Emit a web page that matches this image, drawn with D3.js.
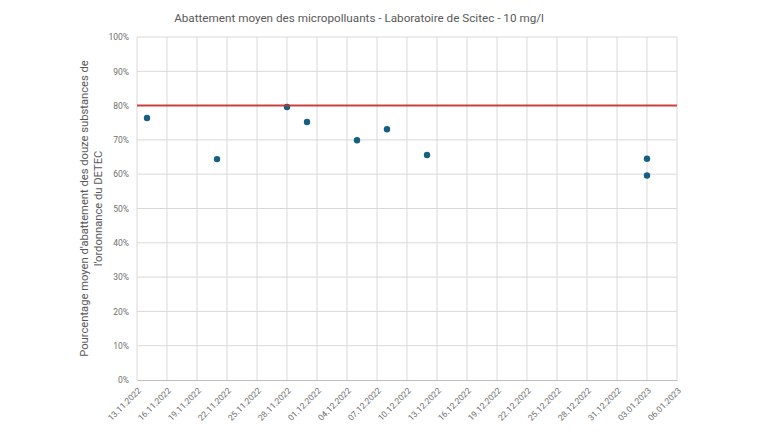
<!DOCTYPE html>
<html lang="fr">
<head>
<meta charset="UTF-8">
<title>Abattement moyen</title>
<script src="https://d3js.org/d3.v7.min.js"></script>
<style>
  body { margin: 0; background: #fff; }
  svg text { font-family: Roboto, "Liberation Sans", Arial, sans-serif; }
</style>
</head>
<body>
<script>
// Data
const dates = ["14.11.2022", "21.11.2022", "28.11.2022", "30.11.2022", "05.12.2022",
               "08.12.2022", "12.12.2022", "03.01.2023", "03.01.2023"];
const values = [76.4, 64.4, 79.6, 75.2, 69.9, 73.1, 65.6, 64.5, 59.6];
const target = 80;
const xTickLabels = ["13.11.2022", "16.11.2022", "19.11.2022", "22.11.2022", "25.11.2022",
  "28.11.2022", "01.12.2022", "04.12.2022", "07.12.2022", "10.12.2022", "13.12.2022",
  "16.12.2022", "19.12.2022", "22.12.2022", "25.12.2022", "28.12.2022", "31.12.2022",
  "03.01.2023", "06.01.2023"];
const yTicks = [0, 10, 20, 30, 40, 50, 60, 70, 80, 90, 100];

const w = 760, h = 440;
const margin = {left: 137, right: 83, top: 37, bottom: 60};

const parse = d3.timeParse("%d.%m.%Y");
const fmt = d3.timeFormat("%d.%m.%Y");

const svg = d3.select("body").append("svg")
  .attr("width", w).attr("height", h);

const x = d3.scaleTime()
  .domain([parse(xTickLabels[0]), parse(xTickLabels[xTickLabels.length - 1])])
  .range([margin.left, w - margin.right]);

const y = d3.scaleLinear()
  .domain([0, 100])
  .range([h - margin.bottom, margin.top]);

const xTickDates = xTickLabels.map(parse);

// grid
svg.append("g")
  .selectAll("line.h")
  .data(yTicks.slice(1))
  .join("line")
  .attr("x1", margin.left).attr("x2", w - margin.right)
  .attr("y1", d => y(d)).attr("y2", d => y(d))
  .attr("stroke", "#d9d9d9").attr("stroke-width", 1);

svg.append("g")
  .selectAll("line.v")
  .data(xTickDates)
  .join("line")
  .attr("x1", d => x(d)).attr("x2", d => x(d))
  .attr("y1", y(0)).attr("y2", y(100))
  .attr("stroke", "#d9d9d9").attr("stroke-width", 1);

// y axis
const yAxis = svg.append("g")
  .attr("transform", `translate(${margin.left},0)`)
  .call(d3.axisLeft(y).tickValues(yTicks).tickSize(0).tickPadding(8).tickFormat(d => d + "%"));
yAxis.select(".domain").remove();
yAxis.selectAll("text").attr("fill", "#6f6f6f").style("font-size", "8.5px");

// x axis
const xAxis = svg.append("g")
  .attr("transform", `translate(0,${y(0)})`)
  .call(d3.axisBottom(x).tickValues(xTickDates).tickSize(0).tickFormat(fmt));
xAxis.select(".domain").attr("stroke", "#bfbfbf");
xAxis.selectAll("text")
  .attr("fill", "#6f6f6f")
  .style("font-size", "8.5px")
  .attr("text-anchor", "end")
  .attr("dx", 0).attr("dy", 0)
  .attr("transform", "translate(2,9) rotate(-45)");

// points
svg.append("g")
  .selectAll("circle")
  .data(dates.map((d, i) => ({date: parse(d), v: values[i]})))
  .join("circle")
  .attr("cx", d => x(d.date))
  .attr("cy", d => y(d.v))
  .attr("r", 3.2)
  .attr("fill", "#156082");

// target line
svg.append("line")
  .attr("x1", margin.left).attr("x2", w - margin.right)
  .attr("y1", y(target)).attr("y2", y(target))
  .attr("stroke", "#c7312c").attr("stroke-width", 2)
  .attr("opacity", 0.9);

// title
svg.append("text")
  .attr("x", 359).attr("y", 22)
  .attr("text-anchor", "middle")
  .attr("fill", "#595959")
  .style("font-size", "11.7px")
  .text("Abattement moyen des micropolluants - Laboratoire de Scitec - 10 mg/l");

// y label
const yl = svg.append("text")
  .attr("transform", `translate(88,${(y(0) + y(100)) / 2}) rotate(-90)`)
  .attr("text-anchor", "middle")
  .attr("fill", "#595959")
  .style("font-size", "11.2px");
yl.append("tspan").attr("x", 0).attr("dy", 0)
  .text("Pourcentage moyen d'abattement des douze substances de");
yl.append("tspan").attr("x", 0).attr("dy", 14)
  .text("l'ordonnance du DETEC");
</script>
</body>
</html>
